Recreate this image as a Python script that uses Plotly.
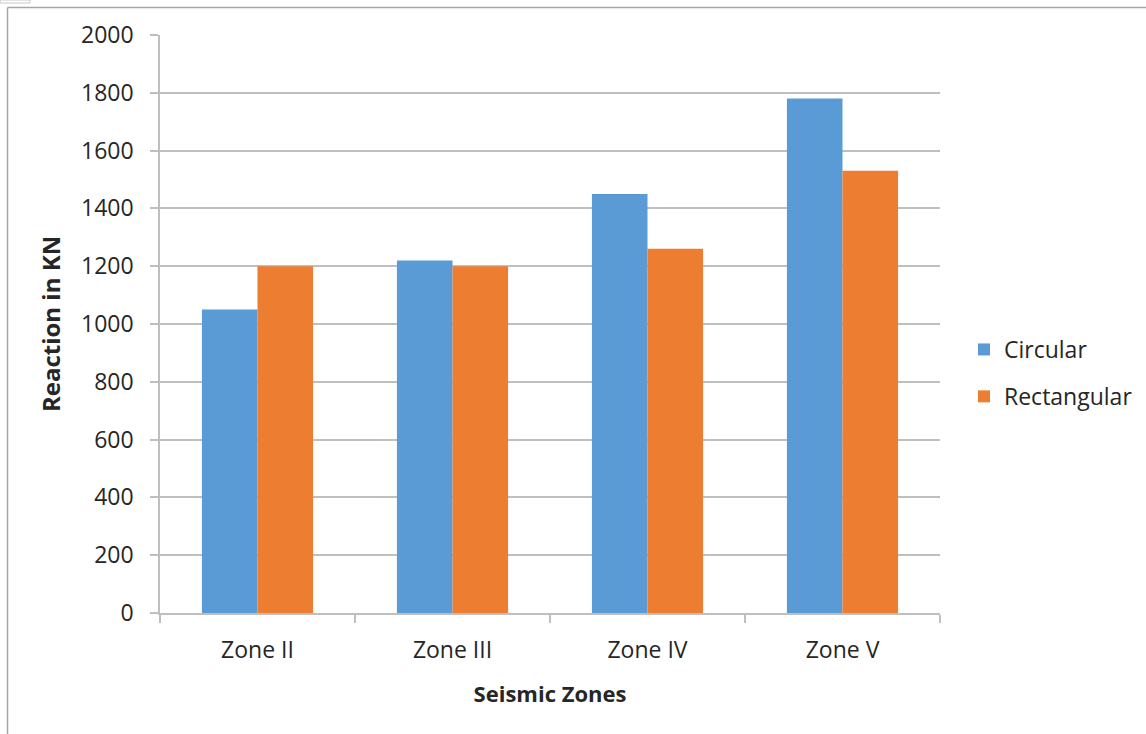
import plotly.graph_objects as go

zones = ["Zone II", "Zone III", "Zone IV", "Zone V"]
circular = [1050, 1220, 1450, 1780]
rectangular = [1200, 1200, 1260, 1530]
y_ticks = [0, 200, 400, 600, 800, 1000, 1200, 1400, 1600, 1800, 2000]

W, H = 1146, 734
L, R, T, B = 160, 206, 35, 121
pw, ph = W - L - R, H - T - B

def px_x(x):
    return (x - L) / pw

def px_y(y):
    return (H - B - y) / ph

font = "Open Sans, Carlito, Liberation Sans, sans-serif"
grid = "#bfbfbf"

fig = go.Figure()
fig.add_trace(go.Bar(name="Circular", x=zones, y=circular, legendgroup="c",
                     marker=dict(color="#5B9BD5", line=dict(width=0))))
fig.add_trace(go.Bar(name="Rectangular", x=zones, y=rectangular, legendgroup="r",
                     marker=dict(color="#ED7D31", line=dict(width=0))))

# outer frame lines (left and top edges of the chart area)
shapes = [
    dict(type="line", xref="paper", yref="paper", x0=px_x(7.5), x1=px_x(W + 5),
         y0=px_y(7.5), y1=px_y(7.5), line=dict(color="#a6a6a6", width=1.5)),
    dict(type="line", xref="paper", yref="paper", x0=px_x(7.5), x1=px_x(7.5),
         y0=px_y(7.5), y1=px_y(H + 5), line=dict(color="#a6a6a6", width=1.5)),
    dict(type="rect", xref="paper", yref="paper", x0=px_x(0), x1=px_x(30),
         y0=px_y(0), y1=px_y(3), line=dict(color="#c8c8c8", width=1)),
]

fig.update_layout(
    width=W, height=H,
    margin=dict(l=L, r=R, t=T, b=B, autoexpand=False),
    paper_bgcolor="white", plot_bgcolor="white",
    barmode="group", bargap=0.43, bargroupgap=0,
    font=dict(family=font, size=23, color="#262626"),
    shapes=shapes,
    legend=dict(x=px_x(964), y=px_y(328), xanchor="left", yanchor="top",
                font=dict(size=23, color="#262626"), traceorder="grouped",
                tracegroupgap=14, itemwidth=30, bgcolor="rgba(0,0,0,0)"),
    xaxis=dict(
        title=dict(text="<b>Seismic Zones</b>", font=dict(size=22), standoff=22),
        showline=True, linecolor=grid, linewidth=1.5,
        ticks="outside", tickson="boundaries", ticklen=8, tickcolor=grid,
        tickwidth=1.5, showgrid=False, tickfont=dict(size=23),
        ticklabelstandoff=16,
    ),
    yaxis=dict(
        title=dict(text="<b>Reaction in KN</b>", font=dict(size=24), standoff=14),
        range=[0, 2000], tickvals=y_ticks, showline=True, linecolor=grid,
        linewidth=1.5, ticks="outside", ticklen=8, tickcolor=grid, tickwidth=1.5,
        showgrid=True, gridcolor=grid, gridwidth=1.5, zeroline=False,
        tickfont=dict(size=23), ticklabelstandoff=12,
    ),
)

fig.write_html("out.html")
